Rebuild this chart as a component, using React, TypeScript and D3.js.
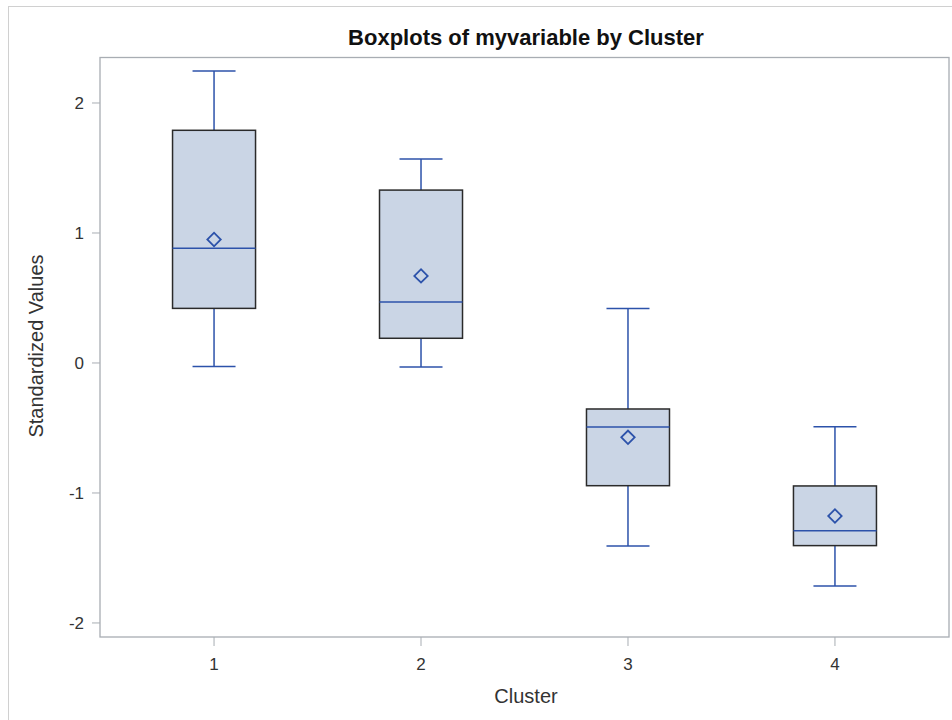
import React from 'react';
import * as d3 from 'd3';

// values
const clusters = ['1', '2', '3', '4'];
const whiskerHigh = [2.246, 1.57, 0.42, -0.49];
const q3Values = [1.79, 1.33, -0.354, -0.946];
const medians = [0.882, 0.47, -0.492, -1.29];
const means = [0.95, 0.67, -0.572, -1.177];
const q1Values = [0.42, 0.19, -0.944, -1.405];
const whiskerLow = [-0.028, -0.03, -1.408, -1.715];
const yTicks = [-2, -1, 0, 1, 2];

const W = 952, H = 720;
const margin = { top: 57.5, right: 3, bottom: 83, left: 100 };

const FILL = '#cad5e5';
const BLUE = '#2c52aa';
const AXIS = '#a8adb3';
const FONT = '"Liberation Sans", Arial, sans-serif';

const App = () => {
  const x = d3.scalePoint<string>()
    .domain(clusters)
    .range([margin.left, W - margin.right])
    .padding(0.551);

  const y = d3.scaleLinear()
    .domain([-2.108, 2.35])
    .range([H - margin.bottom, margin.top]);

  const boxW = 83, capW = 43;
  const diamond = d3.symbol().type(d3.symbolSquare).size(90)();

  return (
    <svg width={W} height={H} style={{ position: 'absolute', left: 0, top: 0, background: '#fff' }}>
      {/* outer frame */}
      <rect x={8.5} y={6.5} width={W} height={H} fill="none" stroke="#d0d0d0" />

      <text x={526} y={45} textAnchor="middle" fontFamily={FONT} fontWeight="bold" fontSize={22} fill="#111">
        Boxplots of myvariable by Cluster
      </text>

      {/* plot area */}
      <rect x={margin.left} y={margin.top} width={W - margin.left - margin.right}
        height={H - margin.bottom - margin.top} fill="none" stroke={AXIS} strokeWidth={1.3} />

      {yTicks.map(t => (
        <g key={t}>
          <line x1={margin.left - 8} x2={margin.left} y1={y(t)} y2={y(t)} stroke={AXIS} />
          <text x={84} y={y(t)} dy="0.36em" textAnchor="end" fontFamily={FONT} fontSize={17} fill="#333">{t}</text>
        </g>
      ))}

      {clusters.map(c => (
        <g key={c}>
          <line x1={x(c)} x2={x(c)} y1={H - margin.bottom} y2={H - margin.bottom + 9} stroke={AXIS} />
          <text x={x(c)} y={670} textAnchor="middle" fontFamily={FONT} fontSize={17} fill="#333">{c}</text>
        </g>
      ))}

      <text x={526} y={703} textAnchor="middle" fontFamily={FONT} fontSize={20} fill="#333">Cluster</text>
      <text transform={`translate(43,346) rotate(-90)`} textAnchor="middle" fontFamily={FONT} fontSize={20} fill="#333">
        Standardized Values
      </text>

      {clusters.map((c, i) => {
        const cx = x(c) as number;
        return (
          <g key={'box' + c}>
            <line x1={cx} x2={cx} y1={y(whiskerHigh[i])} y2={y(q3Values[i])} stroke={BLUE} strokeWidth={1.5} />
            <line x1={cx} x2={cx} y1={y(q1Values[i])} y2={y(whiskerLow[i])} stroke={BLUE} strokeWidth={1.5} />
            <line x1={cx - capW / 2} x2={cx + capW / 2} y1={y(whiskerHigh[i])} y2={y(whiskerHigh[i])} stroke={BLUE} strokeWidth={1.5} />
            <line x1={cx - capW / 2} x2={cx + capW / 2} y1={y(whiskerLow[i])} y2={y(whiskerLow[i])} stroke={BLUE} strokeWidth={1.5} />
            <rect x={cx - boxW / 2} y={y(q3Values[i])} width={boxW} height={y(q1Values[i]) - y(q3Values[i])}
              fill={FILL} stroke="#2a2a2a" strokeWidth={1.5} />
            <line x1={cx - boxW / 2} x2={cx + boxW / 2} y1={y(medians[i])} y2={y(medians[i])} stroke={BLUE} strokeWidth={1.5} />
            <path d={diamond as string} transform={`translate(${cx},${y(means[i])}) rotate(45)`}
              fill="none" stroke={BLUE} strokeWidth={1.8} />
          </g>
        );
      })}
    </svg>
  );
};

export default App;
